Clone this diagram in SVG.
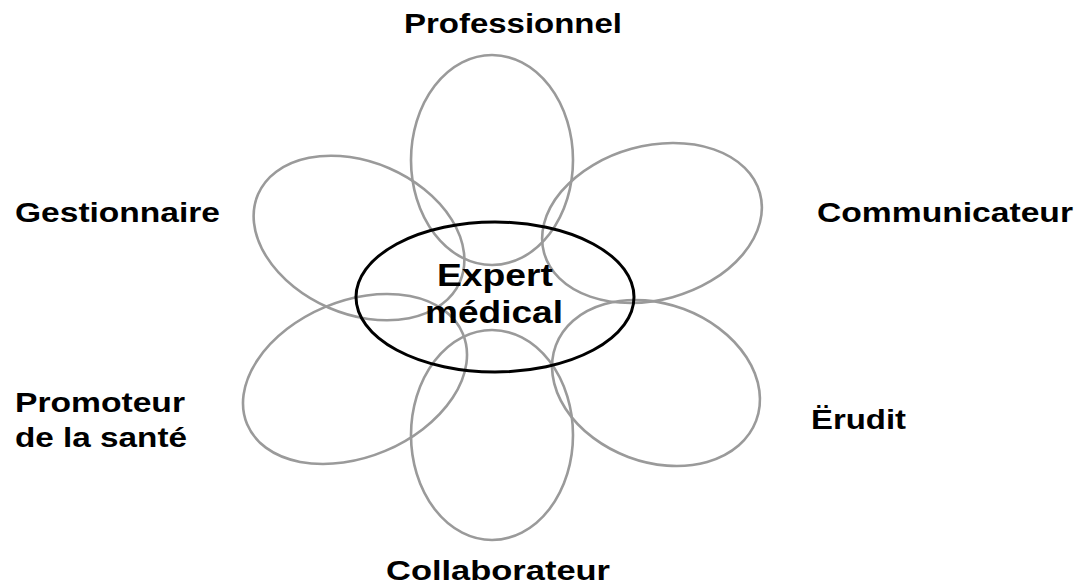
<svg xmlns="http://www.w3.org/2000/svg" width="1080" height="584" viewBox="0 0 1080 584">
<style>
.petal{fill:none;stroke:#9a9a9a;stroke-width:2.6}
.core{fill:none;stroke:#000;stroke-width:3}
.lbl{font-family:"Liberation Sans",Arial,sans-serif;font-weight:bold;font-size:28px;fill:#000}
.ctr{font-size:31px}
</style>
<rect width="1080" height="584" fill="#fff"/>
<g id="petals">
<g id="professionnel"><ellipse class="petal" cx="492" cy="160" rx="81" ry="105"/></g>
<g id="communicateur"><ellipse class="petal" cx="652" cy="223" rx="112" ry="77" transform="rotate(-15.5 652 223)"/></g>
<g id="erudit"><ellipse class="petal" cx="656" cy="383" rx="107" ry="79" transform="rotate(20.6 656 383)"/></g>
<g id="collaborateur"><ellipse class="petal" cx="492" cy="435" rx="81" ry="105"/></g>
<g id="promoteur"><ellipse class="petal" cx="355" cy="379" rx="117" ry="78" transform="rotate(-22.8 355 379)"/></g>
<g id="gestionnaire"><ellipse class="petal" cx="359" cy="238" rx="110" ry="76" transform="rotate(23.4 359 238)"/></g>
</g>
<g id="expert"><ellipse class="core" cx="495" cy="297" rx="139" ry="75"/>
<text class="lbl ctr" x="437" y="286" textLength="116" lengthAdjust="spacingAndGlyphs">Expert</text>
<text class="lbl ctr" x="425" y="323" textLength="138" lengthAdjust="spacingAndGlyphs">médical</text>
</g>
<g id="labels">
<text class="lbl" x="404" y="33" textLength="218" lengthAdjust="spacingAndGlyphs">Professionnel</text>
<text class="lbl" x="15" y="222" textLength="205" lengthAdjust="spacingAndGlyphs">Gestionnaire</text>
<text class="lbl" x="817" y="222" textLength="256" lengthAdjust="spacingAndGlyphs">Communicateur</text>
<text class="lbl" x="15" y="412" textLength="170" lengthAdjust="spacingAndGlyphs">Promoteur</text>
<text class="lbl" x="15" y="447" textLength="172" lengthAdjust="spacingAndGlyphs">de la santé</text>
<text class="lbl" x="811" y="429" textLength="95" lengthAdjust="spacingAndGlyphs">Ërudit</text>
<text class="lbl" x="386" y="580" textLength="224" lengthAdjust="spacingAndGlyphs">Collaborateur</text>
</g>
</svg>
